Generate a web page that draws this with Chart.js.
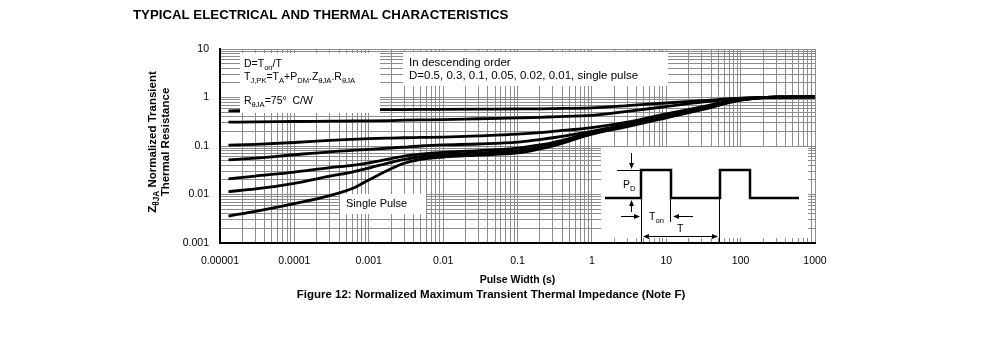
<!DOCTYPE html>
<html>
<head>
<meta charset="utf-8">
<script src="https://cdn.jsdelivr.net/npm/chart.js@4.4.0/dist/chart.umd.min.js"></script>
<style>
  body { margin: 0; background: #fff; }
</style>
</head>
<body>
<canvas id="chart" width="991" height="340"></canvas>
<script>
const pulseWidths = [1.3e-5, 3e-5, 1e-4, 3e-4, 6e-4, 1e-3, 2e-3, 3e-3, 5e-3, 1e-2, 3e-2, 0.1, 0.2, 0.3, 1, 3, 10, 30, 100, 300, 1000];

// normalized Z, one list per duty cycle
const dutyD50 = [0.53, 0.54, 0.55, 0.555, 0.558, 0.56, 0.563, 0.565, 0.567, 0.57, 0.575, 0.58, 0.585, 0.59, 0.61, 0.68, 0.77, 0.86, 0.97, 1.02, 1.03];
const dutyD30 = [0.31, 0.315, 0.32, 0.325, 0.328, 0.33, 0.335, 0.34, 0.345, 0.35, 0.365, 0.38, 0.39, 0.4, 0.43, 0.52, 0.65, 0.8, 0.96, 1.02, 1.03];
const dutyD10 = [0.104, 0.108, 0.118, 0.13, 0.137, 0.142, 0.146, 0.148, 0.15, 0.153, 0.162, 0.175, 0.188, 0.2, 0.24, 0.31, 0.46, 0.64, 0.93, 1.02, 1.03];
const dutyD05 = [0.052, 0.056, 0.066, 0.076, 0.081, 0.085, 0.091, 0.095, 0.1, 0.105, 0.11, 0.12, 0.136, 0.148, 0.2, 0.28, 0.41, 0.6, 0.9, 1.02, 1.03];
const dutyD02 = [0.021, 0.024, 0.029, 0.036, 0.04, 0.045, 0.055, 0.062, 0.068, 0.074, 0.08, 0.09, 0.105, 0.118, 0.19, 0.27, 0.4, 0.58, 0.89, 1.02, 1.03];
const dutyD01 = [0.0115, 0.013, 0.017, 0.024, 0.029, 0.035, 0.046, 0.053, 0.06, 0.066, 0.072, 0.08, 0.095, 0.108, 0.18, 0.26, 0.39, 0.57, 0.89, 1.02, 1.03];
const singlePulse = [0.0036, 0.0045, 0.0065, 0.0095, 0.0133, 0.02, 0.034, 0.044, 0.053, 0.059, 0.065, 0.072, 0.087, 0.1, 0.175, 0.25, 0.38, 0.56, 0.88, 1.02, 1.03];

const seriesNames = ['D=0.5', 'D=0.3', 'D=0.1', 'D=0.05', 'D=0.02', 'D=0.01', 'Single pulse'];
const seriesValues = [dutyD50, dutyD30, dutyD10, dutyD05, dutyD02, dutyD01, singlePulse];

const xTickLabels = ['0.00001', '0.0001', '0.001', '0.01', '0.1', '1', '10', '100', '1000'];
const yTickLabels = ['0.001', '0.01', '0.1', '1', '10'];

const font = "'Liberation Sans', Arial, sans-serif";

// 1..9 per decade so every grid line shows
function logTicks(labels) {
  const dec = labels.map(Number);
  const out = [];
  dec.forEach((d, i) => {
    if (i === dec.length - 1) { out.push({ value: d }); return; }
    for (let m = 1; m < 10; m++) out.push({ value: d * m });
  });
  return out;
}

function decadeLabel(labels) {
  const dec = labels.map(Number);
  return function (value) {
    const i = dec.findIndex(d => Math.abs(value / d - 1) < 1e-6);
    return i >= 0 ? labels[i] : '';
  };
}

// text with subscripts: runs = [[text, isSub], ...]
function drawRuns(ctx, runs, x, y, size, bold, align) {
  const w8 = bold ? 'bold ' : '';
  const base = w8 + size + 'px ' + font;
  const sub = w8 + (size * 0.72).toFixed(1) + 'px ' + font;
  let w = 0;
  runs.forEach(r => { ctx.font = r[1] ? sub : base; w += ctx.measureText(r[0]).width; });
  let cx = align === 'center' ? x - w / 2 : x;
  ctx.textAlign = 'left';
  ctx.textBaseline = 'middle';
  runs.forEach(r => {
    ctx.font = r[1] ? sub : base;
    ctx.fillText(r[0], cx, y + (r[1] ? size * 0.35 : 0));
    cx += ctx.measureText(r[0]).width;
  });
}

function arrowHead(ctx, x, y, dir) {
  const L = 6, W = 2.5;
  ctx.beginPath();
  ctx.moveTo(x, y);
  if (dir === 'down') { ctx.lineTo(x - W, y - L); ctx.lineTo(x + W, y - L); }
  if (dir === 'up') { ctx.lineTo(x - W, y + L); ctx.lineTo(x + W, y + L); }
  if (dir === 'right') { ctx.lineTo(x - L, y - W); ctx.lineTo(x - L, y + W); }
  if (dir === 'left') { ctx.lineTo(x + L, y - W); ctx.lineTo(x + L, y + W); }
  ctx.closePath();
  ctx.fill();
}

function line(ctx, x1, y1, x2, y2) {
  ctx.beginPath();
  ctx.moveTo(x1, y1);
  ctx.lineTo(x2, y2);
  ctx.stroke();
}

function whiteBox(ctx, x, y, w, h) {
  ctx.fillStyle = '#fff';
  ctx.fillRect(x, y, w, h);
  ctx.fillStyle = '#000';
}

const notes = {
  id: 'notes',
  afterDatasetsDraw(chart) {
    const ctx = chart.ctx;
    const ca = chart.chartArea;
    ctx.save();
    ctx.fillStyle = '#000';

    // formula box
    whiteBox(ctx, ca.left + 20, ca.top + 4, 140, 60);
    const tx = ca.left + 24;
    drawRuns(ctx, [['D=T', false], ['on', true], ['/T', false]], tx, ca.top + 15, 10.5, false);
    drawRuns(ctx, [['T', false], ['J,PK', true], ['=T', false], ['A', true], ['+P', false], ['DM', true],
      ['.Z', false], ['θJA', true], ['.R', false], ['θJA', true]], tx, ca.top + 28, 10.5, false);
    drawRuns(ctx, [['R', false], ['θJA', true], ['=75°  C/W', false]], tx, ca.top + 52, 10.5, false);

    // order box
    whiteBox(ctx, ca.left + 183, ca.top + 3, 265, 34);
    drawRuns(ctx, [['In descending order', false]], ca.left + 189, ca.top + 14, 11.5, false);
    drawRuns(ctx, [['D=0.5, 0.3, 0.1, 0.05, 0.02, 0.01, single pulse', false]], ca.left + 189, ca.top + 27, 11.5, false);

    // single pulse tag
    whiteBox(ctx, ca.left + 120, ca.top + 145, 86, 20);
    drawRuns(ctx, [['Single Pulse', false]], ca.left + 126, ca.top + 155, 11, false);

    // pulse train sketch
    const ox = ca.right - 214, oy = ca.bottom - 96;
    whiteBox(ctx, ox, oy, 207, 91);
    const base = oy + 51, top = oy + 23;
    ctx.strokeStyle = '#000';
    ctx.lineWidth = 2.5;
    ctx.lineJoin = 'miter';
    ctx.beginPath();
    ctx.moveTo(ox + 4, base);
    ctx.lineTo(ox + 40, base);
    ctx.lineTo(ox + 40, top);
    ctx.lineTo(ox + 70, top);
    ctx.lineTo(ox + 70, base);
    ctx.lineTo(ox + 119, base);
    ctx.lineTo(ox + 119, top);
    ctx.lineTo(ox + 149, top);
    ctx.lineTo(ox + 149, base);
    ctx.lineTo(ox + 198, base);
    ctx.stroke();

    ctx.lineWidth = 1;
    line(ctx, ox + 16, top + 0.5, ox + 40, top + 0.5);
    line(ctx, ox + 30.5, oy + 6, ox + 30.5, top - 4);
    arrowHead(ctx, ox + 30.5, top - 1, 'down');
    line(ctx, ox + 30.5, base + 14, ox + 30.5, base + 6);
    arrowHead(ctx, ox + 30.5, base + 2, 'up');
    drawRuns(ctx, [['P', false], ['D', true]], ox + 22, oy + 38, 10.5, false);

    line(ctx, ox + 40.5, base, ox + 40.5, ca.bottom);
    line(ctx, ox + 69.5, base, ox + 69.5, base + 24);
    line(ctx, ox + 118.5, base, ox + 118.5, ca.bottom);

    line(ctx, ox + 20, base + 18.5, ox + 34, base + 18.5);
    arrowHead(ctx, ox + 39, base + 18.5, 'right');
    line(ctx, ox + 78, base + 18.5, ox + 92, base + 18.5);
    arrowHead(ctx, ox + 72, base + 18.5, 'left');
    drawRuns(ctx, [['T', false], ['on', true]], ox + 48, base + 19, 10.5, false);

    line(ctx, ox + 46, base + 38.5, ox + 113, base + 38.5);
    arrowHead(ctx, ox + 42, base + 38.5, 'left');
    arrowHead(ctx, ox + 117, base + 38.5, 'right');
    drawRuns(ctx, [['T', false]], ox + 76, base + 31, 10.5, false);

    ctx.restore();
  },
  afterDraw(chart) {
    const ctx = chart.ctx;
    const ca = chart.chartArea;
    ctx.save();
    ctx.fillStyle = '#000';
    drawRuns(ctx, [['TYPICAL ELECTRICAL AND THERMAL CHARACTERISTICS', false]], 133, 15, 13.25, true);
    drawRuns(ctx, [['Pulse Width (s)', false]], (ca.left + ca.right) / 2, 280, 10.5, true, 'center');
    drawRuns(ctx, [['Figure 12: Normalized Maximum Transient Thermal Impedance (Note F)', false]], 491, 295, 11.5, true, 'center');

    ctx.translate(152.5, 142);
    ctx.rotate(-Math.PI / 2);
    drawRuns(ctx, [['Z', false], ['θJA', true], [' Normalized Transient', false]], 0, 0, 11.5, true, 'center');
    drawRuns(ctx, [['Thermal Resistance', false]], 0, 13.5, 11.5, true, 'center');
    ctx.restore();
  }
};

const datasets = seriesValues.map((vals, i) => ({
  label: seriesNames[i],
  data: vals.map((v, j) => ({ x: pulseWidths[j], y: v })),
  borderColor: '#000',
  borderWidth: 2.8,
  pointRadius: 0,
  fill: false,
  cubicInterpolationMode: 'monotone'
}));

const gridStyle = { color: '#8c8c8c', lineWidth: 1, drawTicks: false };

new Chart(document.getElementById('chart'), {
  type: 'line',
  data: { datasets: datasets },
  plugins: [notes],
  options: {
    responsive: false,
    animation: false,
    layout: { padding: { top: 49, right: 176, left: 0, bottom: 0 } },
    plugins: { legend: { display: false }, tooltip: { enabled: false } },
    scales: {
      x: {
        type: 'logarithmic',
        min: 1e-5,
        max: 1000,
        afterBuildTicks: s => { s.ticks = logTicks(xTickLabels); },
        afterFit: s => { s.height = 97; },
        grid: gridStyle,
        border: { color: '#000', width: 2 },
        ticks: {
          autoSkip: false, maxRotation: 0, minRotation: 0, padding: 12, color: '#000',
          font: { family: font, size: 10.5 },
          callback: decadeLabel(xTickLabels)
        }
      },
      y: {
        type: 'logarithmic',
        min: 0.001,
        max: 10,
        afterBuildTicks: s => { s.ticks = logTicks(yTickLabels); },
        afterFit: s => { s.width = 220; },
        grid: gridStyle,
        border: { color: '#000', width: 2 },
        ticks: {
          autoSkip: false, padding: 11, color: '#000',
          font: { family: font, size: 10.5 },
          callback: decadeLabel(yTickLabels)
        }
      }
    }
  }
});
</script>
</body>
</html>
